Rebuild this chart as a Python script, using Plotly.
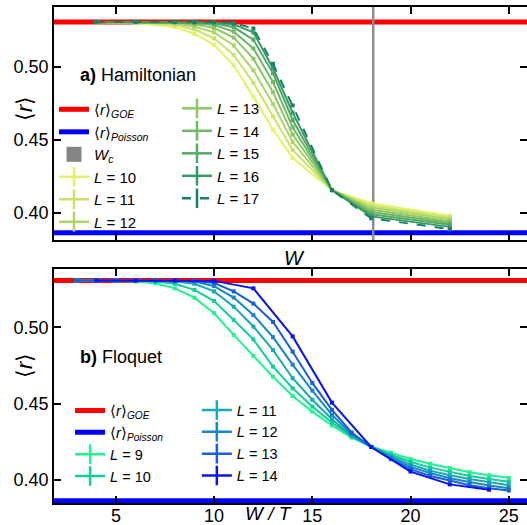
import plotly.graph_objects as go

# ---------------- data ----------------
R_GOE = 0.5307
R_POISSON = 0.3863
W_C = 18.1

# Hamiltonian panel
W_ham = [4, 6, 8, 9, 10, 11, 12, 13, 14, 16, 18, 22]
L_ham = [10, 11, 12, 13, 14, 15, 16, 17]
r_ham_L10 = [0.5305, 0.5298, 0.5272, 0.5225, 0.5150, 0.5010, 0.4795, 0.4570, 0.4375, 0.4155, 0.4065, 0.3980]
r_ham_L11 = [0.5306, 0.5302, 0.5288, 0.5255, 0.5195, 0.5080, 0.4890, 0.4660, 0.4430, 0.4155, 0.4050, 0.3968]
r_ham_L12 = [0.5306, 0.5304, 0.5296, 0.5275, 0.5235, 0.5145, 0.4975, 0.4745, 0.4485, 0.4155, 0.4035, 0.3955]
r_ham_L13 = [0.5307, 0.5305, 0.5302, 0.5290, 0.5265, 0.5200, 0.5055, 0.4825, 0.4535, 0.4155, 0.4020, 0.3942]
r_ham_L14 = [0.5307, 0.5306, 0.5305, 0.5300, 0.5285, 0.5240, 0.5125, 0.4895, 0.4585, 0.4155, 0.4005, 0.3930]
r_ham_L15 = [0.5307, 0.5307, 0.5306, 0.5303, 0.5297, 0.5270, 0.5185, 0.4955, 0.4635, 0.4155, 0.3990, 0.3918]
r_ham_L16 = [0.5307, 0.5307, 0.5306, 0.5305, 0.5303, 0.5290, 0.5235, 0.4990, 0.4685, 0.4155, 0.3975, 0.3903]
r_ham_L17 = [0.5307, 0.5307, 0.5307, 0.5306, 0.5305, 0.5300, 0.5262, 0.5020, 0.4735, 0.4155, 0.3962, 0.3887]
r_ham = [r_ham_L10, r_ham_L11, r_ham_L12, r_ham_L13, r_ham_L14, r_ham_L15, r_ham_L16, r_ham_L17]
col_ham = ["#e6f266", "#c8e466", "#abd566", "#8ec766", "#71b866", "#54aa66", "#379b66", "#178066"]

# Floquet panel
W_flo = [3, 4, 5, 6, 7, 8, 9, 10, 11, 12, 13, 14, 15, 16, 17, 18, 19, 20, 21, 22, 23, 24, 25]
W_flo_L14 = [4, 6, 8, 10, 12, 14, 16, 18, 20, 22, 24]
L_flo = [9, 10, 11, 12, 13, 14]
r_flo_L9 = [0.5307, 0.5306, 0.5305, 0.5300, 0.5288, 0.5255, 0.5194, 0.5092, 0.4950, 0.4812, 0.4676, 0.4550,
            0.4447, 0.4356, 0.4277, 0.4218, 0.4178, 0.4136, 0.4105, 0.4077, 0.4050, 0.4030, 0.4013]
r_flo_L10 = [0.5307, 0.5307, 0.5306, 0.5304, 0.5300, 0.5285, 0.5245, 0.5172, 0.5048, 0.4921, 0.4742, 0.4600,
             0.4480, 0.4375, 0.4285, 0.4215, 0.4165, 0.4118, 0.4080, 0.4052, 0.4025, 0.4005, 0.3988]
r_flo_L11 = [0.5307, 0.5307, 0.5307, 0.5306, 0.5304, 0.5300, 0.5285, 0.5235, 0.5135, 0.5005, 0.4850, 0.4666,
             0.4525, 0.4397, 0.4290, 0.4215, 0.4155, 0.4100, 0.4060, 0.4030, 0.4005, 0.3985, 0.3965]
r_flo_L12 = [0.5307, 0.5307, 0.5307, 0.5307, 0.5306, 0.5305, 0.5300, 0.5270, 0.5195, 0.5080, 0.4935, 0.4755,
             0.4585, 0.4426, 0.4300, 0.4215, 0.4145, 0.4085, 0.4045, 0.4010, 0.3985, 0.3962, 0.3945]
r_flo_L13 = [0.5307, 0.5307, 0.5307, 0.5307, 0.5307, 0.5306, 0.5304, 0.5290, 0.5235, 0.5155, 0.5035, 0.4840,
             0.4635, 0.4458, 0.4310, 0.4215, 0.4135, 0.4070, 0.4025, 0.3995, 0.3965, 0.3945, 0.3930]
r_flo_L14 = [0.5307, 0.5307, 0.5307, 0.5304, 0.5255, 0.4940, 0.4506, 0.4215, 0.4054, 0.3970, 0.3935]
r_flo = [r_flo_L9, r_flo_L10, r_flo_L11, r_flo_L12, r_flo_L13, r_flo_L14]
col_flo = ["#1ff58f", "#10cf9a", "#18aab0", "#1586c8", "#1a5ee0", "#0a14f0"]

X_RANGE = [1.85, 25.93]
Y_RANGE_TOP = [0.3813, 0.5409]
Y_RANGE_BOT = [0.3848, 0.5382]
X_TICKS = [5, 10, 15, 20, 25]
Y_TICKS = [0.40, 0.45, 0.50]
Y_TICKTEXT = ["0.40", "0.45", "0.50"]

FONT = "Liberation Sans, Arial, sans-serif"

fig = go.Figure()

# ---------- top panel (x, y) ----------
fig.add_trace(go.Scatter(x=X_RANGE, y=[R_GOE, R_GOE], mode="lines", line=dict(color="#ff0000", width=5),
                         xaxis="x", yaxis="y", showlegend=False, hoverinfo="skip"))
fig.add_trace(go.Scatter(x=X_RANGE, y=[R_POISSON, R_POISSON], mode="lines", line=dict(color="#0000ff", width=5),
                         xaxis="x", yaxis="y", showlegend=False, hoverinfo="skip"))
fig.add_trace(go.Scatter(x=[W_C, W_C], y=Y_RANGE_TOP, mode="lines", line=dict(color="#8c8c8c", width=2.5),
                         xaxis="x", yaxis="y", showlegend=False, hoverinfo="skip"))
for L, r, c in zip(L_ham, r_ham, col_ham):
    fig.add_trace(go.Scatter(x=W_ham, y=r, mode="lines+markers",
                             line=dict(color=c, width=2, dash="dash" if L == 17 else "solid"),
                             marker=dict(color=c, size=4, symbol="square"),
                             xaxis="x", yaxis="y", showlegend=False))

# ---------- bottom panel (x2, y2) ----------
fig.add_trace(go.Scatter(x=X_RANGE, y=[R_GOE, R_GOE], mode="lines", line=dict(color="#ff0000", width=5),
                         xaxis="x2", yaxis="y2", showlegend=False, hoverinfo="skip"))
fig.add_trace(go.Scatter(x=X_RANGE, y=[R_POISSON, R_POISSON], mode="lines", line=dict(color="#0000ff", width=5),
                         xaxis="x2", yaxis="y2", showlegend=False, hoverinfo="skip"))
for L, r, c in zip(L_flo, r_flo, col_flo):
    xs = W_flo_L14 if L == 14 else W_flo
    fig.add_trace(go.Scatter(x=xs, y=r, mode="lines+markers",
                             line=dict(color=c, width=2),
                             marker=dict(color=c, size=4, symbol="square"),
                             xaxis="x2", yaxis="y2", showlegend=False))

# ---------- legend entries ----------
GOE_NAME = "⟨<i>r</i>⟩<sub><i>GOE</i></sub>"
POI_NAME = "⟨<i>r</i>⟩<sub><i>Poisson</i></sub>"


def leg_line(name, color, legend):
    fig.add_trace(go.Scatter(x=[None], y=[None], mode="lines", name=name,
                             line=dict(color=color, width=5), legend=legend, xaxis="x", yaxis="y"))


def leg_L(name, color, legend, dash="solid"):
    fig.add_trace(go.Scatter(x=[None], y=[None], mode="lines+markers", name=name,
                             line=dict(color=color, width=2.5, dash=dash),
                             marker=dict(symbol="line-ns", size=14, line=dict(color=color, width=2.5)),
                             legend=legend, xaxis="x", yaxis="y"))


leg_line(GOE_NAME, "#ff0000", "legend")
leg_line(POI_NAME, "#0000ff", "legend")
fig.add_trace(go.Scatter(x=[None], y=[None], mode="markers", name="<i>W<sub>c</sub></i>",
                         marker=dict(symbol="square", size=15, color="#858585"),
                         legend="legend", xaxis="x", yaxis="y"))
for L, c in zip(L_ham, col_ham):
    lg = "legend" if L <= 12 else "legend2"
    leg_L(f"<i>L</i> = {L}", c, lg, dash="dash" if L == 17 else "solid")

leg_line(GOE_NAME, "#ff0000", "legend3")
leg_line(POI_NAME, "#0000ff", "legend3")
for L, c in zip(L_flo, col_flo):
    lg = "legend3" if L <= 10 else "legend4"
    leg_L(f"<i>L</i> = {L}", c, lg)

# ---------- layout ----------
axis_common = dict(showline=True, linecolor="black", linewidth=1.5, mirror="allticks",
                   ticks="inside", ticklen=7, tickwidth=1.5, tickcolor="black",
                   showgrid=False, zeroline=False, automargin=False,
                   tickfont=dict(family=FONT, size=18, color="black"))

legend_common = dict(bgcolor="rgba(0,0,0,0)", borderwidth=0, xanchor="left", yanchor="top",
                     traceorder="normal", itemclick=False)

fig.update_layout(
    width=527, height=525,
    margin=dict(l=54, r=0, t=7, b=22, autoexpand=False),
    paper_bgcolor="white", plot_bgcolor="white",
    font=dict(family=FONT, size=15, color="black"),
    xaxis=dict(axis_common, domain=[0, 1], range=X_RANGE, tickvals=X_TICKS, showticklabels=False,
               anchor="y"),
    yaxis=dict(axis_common, domain=[0.5302, 1], range=Y_RANGE_TOP, tickvals=Y_TICKS, ticktext=Y_TICKTEXT,
               anchor="x"),
    xaxis2=dict(axis_common, domain=[0, 1], range=X_RANGE, tickvals=X_TICKS, anchor="y2",
                ticklabelstandoff=-4),
    yaxis2=dict(axis_common, domain=[0, 0.4718], range=Y_RANGE_BOT, tickvals=Y_TICKS, ticktext=Y_TICKTEXT,
                anchor="x2"),
    legend=dict(legend_common, x=0.0, y=0.8265, font=dict(family=FONT, size=15)),
    legend2=dict(legend_common, x=0.26, y=0.8285, font=dict(family=FONT, size=15)),
    legend3=dict(legend_common, x=0.034, y=0.2187, font=dict(family=FONT, size=14.5)),
    legend4=dict(legend_common, x=0.302, y=0.2197, font=dict(family=FONT, size=14.5)),
    showlegend=True,
)

annotations = [
    dict(text="<b>a)</b> Hamiltonian", x=(78 - 54) / 473, y=(503 - 74.5) / 496, xanchor="left", yanchor="middle",
         font=dict(size=18)),
    dict(text="<b>b)</b> Floquet", x=(78 - 54) / 473, y=(503 - 357) / 496, xanchor="left", yanchor="middle",
         font=dict(size=18)),
    dict(text="⟨<i>r</i>⟩", x=(24 - 54) / 473, y=(503 - 109) / 496, textangle=-90, xanchor="center",
         yanchor="middle", font=dict(size=22)),
    dict(text="⟨<i>r</i>⟩", x=(24 - 54) / 473, y=(503 - 366) / 496, textangle=-90, xanchor="center",
         yanchor="middle", font=dict(size=22)),
    dict(text="<i>W</i>", x=(294 - 54) / 473, y=(503 - 258) / 496, xanchor="center", yanchor="middle",
         font=dict(size=20)),
    dict(text="<i>W / T</i>", x=(268 - 54) / 473, y=(503 - 513) / 496, xanchor="center", yanchor="middle",
         font=dict(size=19)),
]
for a in annotations:
    a.update(xref="paper", yref="paper", showarrow=False)
    a["font"] = dict(family=FONT, color="black", **a["font"])
fig.update_layout(annotations=annotations)

fig.write_html("out.html", config={"displayModeBar": False},
               post_script="document.body.style.margin='0px';document.body.style.overflow='hidden';")
